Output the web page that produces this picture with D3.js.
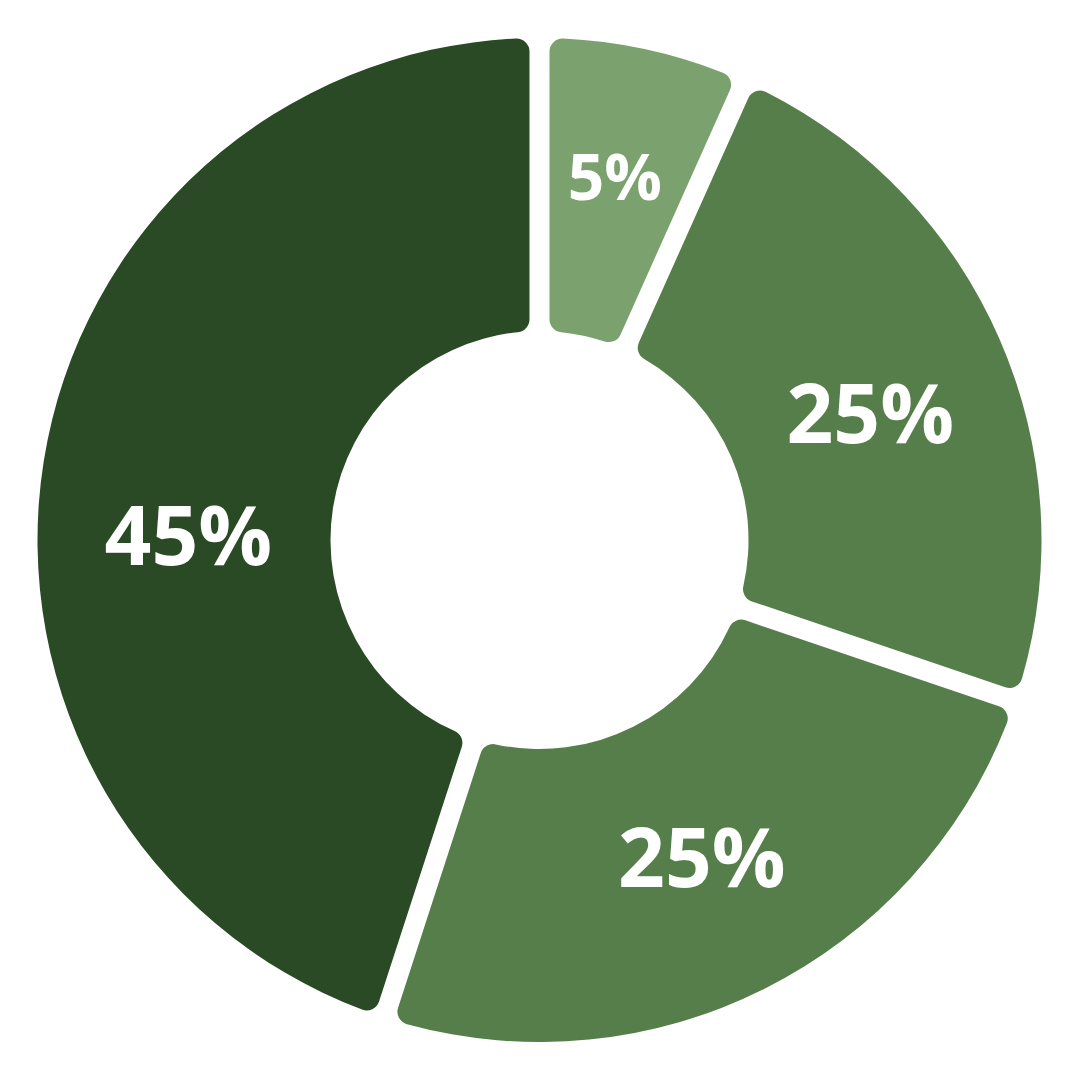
<!DOCTYPE html>
<html>
<head>
<meta charset="utf-8">
<script src="https://cdn.jsdelivr.net/npm/d3@7"></script>
<style>
  html, body { margin: 0; padding: 0; background: #ffffff; }
  svg { display: block; }
</style>
</head>
<body>
<svg id="chart" width="1080" height="1080"></svg>
<script>
// Data (clockwise from 12 o'clock)
const categories = ["A", "B", "C", "D"];
const labels = ["5%", "25%", "25%", "45%"];
// slice sizes as drawn in the picture (angular share, %)
const values = [6.7, 23.5, 24.8, 45.0];
const colors = ["#7AA16E", "#557E4A", "#557E4A", "#294A24"];

const W = 1080, H = 1080;
const cx = 539.5, cy = 540;
const outerR = 502, innerR = 209;

const svg = d3.select("#chart");
const g = svg.append("g").attr("transform", `translate(${cx},${cy})`);

const data = categories.map((c, i) => ({ cat: c, value: values[i], label: labels[i], color: colors[i] }));

const pie = d3.pie().value(d => d.value).sort(null).padAngle(0);
const arcs = pie(data);

const arc = d3.arc()
  .innerRadius(innerR)
  .outerRadius(outerR)
  .padAngle(0.04)
  .padRadius(500)
  .cornerRadius(13);

g.selectAll("path.slice")
  .data(arcs)
  .join("path")
  .attr("class", "slice")
  .attr("d", arc)
  .attr("fill", d => d.data.color);

// label placement tweaks (style/position config)
const labelStyle = [
  { size: 64, dx: 1, dy: -15 },
  { size: 82, dx: 5, dy: 16 },
  { size: 82, dx: 3, dy: 0 },
  { size: 82, dx: 0, dy: 51 }
];

const labelArc = d3.arc().innerRadius(innerR).outerRadius(outerR);

g.selectAll("text.lbl")
  .data(arcs)
  .join("text")
  .attr("class", "lbl")
  .attr("x", (d, i) => labelArc.centroid(d)[0] + labelStyle[i].dx)
  .attr("y", (d, i) => labelArc.centroid(d)[1] + labelStyle[i].dy)
  .attr("dy", "0.357em")
  .attr("text-anchor", "middle")
  .attr("font-family", "'Open Sans', sans-serif")
  .attr("font-weight", 700)
  .attr("font-size", (d, i) => labelStyle[i].size)
  .attr("fill", "#ffffff")
  .text(d => d.data.label);
</script>
</body>
</html>
